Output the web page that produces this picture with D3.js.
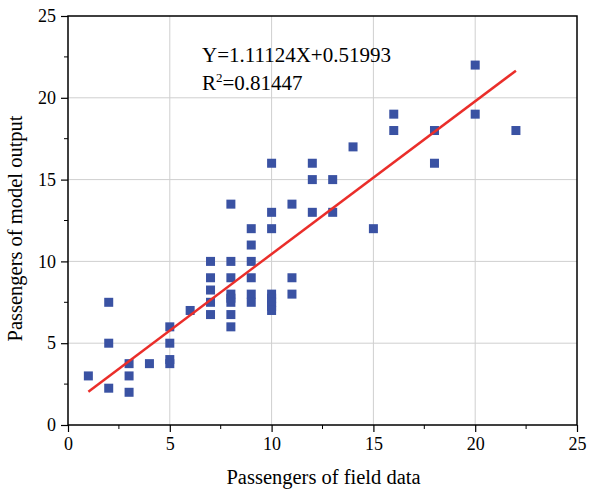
<!DOCTYPE html>
<html>
<head>
<meta charset="utf-8">
<script src="https://cdn.jsdelivr.net/npm/d3@7"></script>
<style>
  body { margin: 0; background: #fff; }
  svg { font-family: "Liberation Serif", "Times New Roman", serif; }
</style>
</head>
<body>
<div id="chart"></div>
<script>
// field data (x) vs model output (y)
const fieldData = [1, 2, 2, 2, 3, 3, 3, 4, 5, 5, 5, 5, 6,
    7, 7, 7, 7, 7,
    8, 8, 8, 8, 8, 8, 8, 8,
    9, 9, 9, 9, 9, 9,
    10, 10, 10, 10, 10, 10, 10, 10,
    11, 11, 11, 12, 12, 12, 13, 13, 14, 15, 16, 16, 18, 18, 20, 20, 22];
const modelOutput = [3, 7.5, 5, 2.25, 3.75, 3, 2, 3.75, 6, 5, 4, 3.75, 7,
    10, 9, 8.25, 7.5, 6.75,
    13.5, 10, 9, 8, 7.75, 7.5, 6.75, 6,
    12, 11, 10, 9, 8, 7.5,
    16, 13, 12, 8, 7.75, 7.5, 7.25, 7,
    13.5, 9, 8, 16, 15, 13, 15, 13, 17, 12, 19, 18, 18, 16, 22, 19, 18];

// fitted line as drawn (end points)
const fitX = [1, 22];
const fitY = [2.04, 21.66];

const xTicks = [0, 5, 10, 15, 20, 25];
const yTicks = [0, 5, 10, 15, 20, 25];
const minorTicks = [2.5, 7.5, 12.5, 17.5, 22.5];

const W = 593, H = 490;
const margin = {top: 16, right: 16, bottom: 65, left: 68};
const width = W - margin.left - margin.right;
const height = H - margin.top - margin.bottom;

const svg = d3.select("#chart").append("svg")
    .attr("width", W)
    .attr("height", H)
  .append("g")
    .attr("transform", `translate(${margin.left},${margin.top})`);

const x = d3.scaleLinear().domain([0, 25]).range([0, width]);
const y = d3.scaleLinear().domain([0, 25]).range([height, 0]);

// grid
svg.append("g").selectAll("line.gx")
    .data(xTicks.slice(1, -1)).join("line")
    .attr("x1", d => x(d)).attr("x2", d => x(d))
    .attr("y1", 0).attr("y2", height)
    .attr("stroke", "#cfcfcf").attr("stroke-width", 1);
svg.append("g").selectAll("line.gy")
    .data(yTicks.slice(1, -1)).join("line")
    .attr("y1", d => y(d)).attr("y2", d => y(d))
    .attr("x1", 0).attr("x2", width)
    .attr("stroke", "#cfcfcf").attr("stroke-width", 1);

// x axis
const xAxis = svg.append("g")
    .attr("transform", `translate(0,${height})`)
    .call(d3.axisBottom(x).tickValues(xTicks).tickSize(7).tickPadding(5).tickFormat(d3.format("d")));
xAxis.append("g").selectAll("line")
    .data(minorTicks).join("line")
    .attr("x1", d => x(d)).attr("x2", d => x(d))
    .attr("y1", 0).attr("y2", 4)
    .attr("stroke", "#000");

// y axis
const yAxis = svg.append("g")
    .call(d3.axisLeft(y).tickValues(yTicks).tickSize(7).tickPadding(5).tickFormat(d3.format("d")));
yAxis.append("g").selectAll("line")
    .data(minorTicks).join("line")
    .attr("y1", d => y(d)).attr("y2", d => y(d))
    .attr("x1", 0).attr("x2", -4)
    .attr("stroke", "#000");

svg.selectAll(".domain").remove();
svg.selectAll(".tick line").attr("stroke", "#000").attr("stroke-width", 1.2);
svg.selectAll(".tick text")
    .attr("font-family", "Liberation Serif, Times New Roman, serif")
    .attr("font-size", 18)
    .attr("fill", "#000");

// frame
svg.append("rect")
    .attr("width", width).attr("height", height)
    .attr("fill", "none").attr("stroke", "#000").attr("stroke-width", 1.5);

// axis titles
svg.append("text")
    .attr("x", width / 2 + 1)
    .attr("y", height + 59)
    .attr("text-anchor", "middle")
    .attr("font-size", 20.5)
    .text("Passengers of field data");

svg.append("text")
    .attr("transform", "rotate(-90)")
    .attr("x", -(height / 2) - 8)
    .attr("y", -46)
    .attr("text-anchor", "middle")
    .attr("font-size", 20.5)
    .text("Passengers of model output");

// points
const points = fieldData.map((d, i) => [d, modelOutput[i]]);
const s = 9;
svg.append("g").selectAll("rect")
    .data(points).join("rect")
    .attr("x", d => x(d[0]) - s / 2)
    .attr("y", d => y(d[1]) - s / 2)
    .attr("width", s).attr("height", s)
    .attr("fill", "#3a52a3");

// fit line
svg.append("path")
    .datum(fitX.map((d, i) => [d, fitY[i]]))
    .attr("fill", "none")
    .attr("stroke", "#ea2e2a")
    .attr("stroke-width", 2.5)
    .attr("d", d3.line().x(d => x(d[0])).y(d => y(d[1])));

// equation
const eq = svg.append("text")
    .attr("x", 134)
    .attr("y", 46)
    .attr("font-size", 21)
    .text("Y=1.11124X+0.51993");

const r2 = svg.append("text")
    .attr("x", 134)
    .attr("y", 74)
    .attr("font-size", 21);
r2.append("tspan").text("R");
r2.append("tspan").attr("font-size", 13).attr("dy", -8).text("2");
r2.append("tspan").attr("dy", 8).text("=0.81447");
</script>
</body>
</html>
